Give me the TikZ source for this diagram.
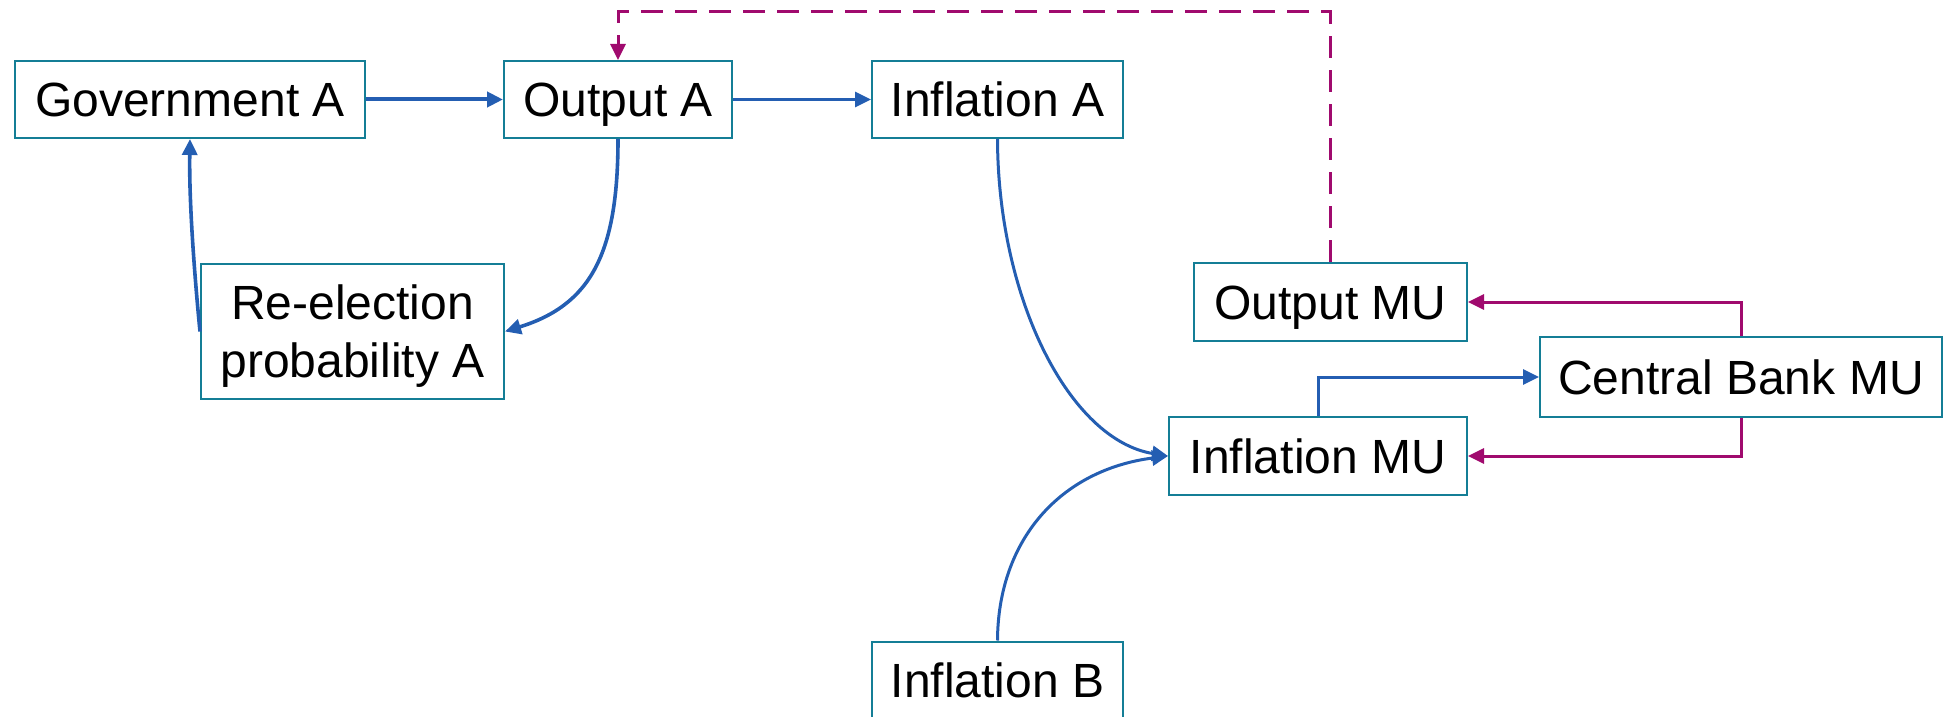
\documentclass[tikz,border=0pt]{standalone}
\usepackage{fontspec}
\setmainfont{Liberation Sans}
\usetikzlibrary{arrows.meta}
\definecolor{boxteal}{RGB}{20,126,150}
\definecolor{arrblue}{RGB}{36,94,178}
\definecolor{arrmag}{RGB}{160,10,110}
\tikzset{
  box/.style={draw=boxteal, line width=1pt, fill=white, inner sep=0pt, align=center,
    text height=17.2pt, text depth=0pt,
    font=\fontsize{24}{29}\selectfont},
  bluearr/.style={draw=arrblue, line width=1.5pt, -{Triangle[length=8pt,width=7.5pt]}},
  magarr/.style={draw=arrmag, line width=1.5pt, -{Triangle[length=8pt,width=7.5pt]}},
  magdash/.style={magarr, dash pattern=on 11pt off 6pt},
}
\begin{document}
\begin{tikzpicture}[x=0.5pt,y=-0.5pt]
\useasboundingbox (0,0) rectangle (1944,717);
\node[box, minimum width=175pt, minimum height=38.5pt] (gov) at (190,99.5) {Government A};
\node[box, minimum width=114pt, minimum height=38.5pt] (oa) at (618,99.5) {Output A};
\node[box, minimum width=125.5pt, minimum height=38.5pt] (ia) at (997.5,99.5) {Inflation A};
\node[box, minimum width=151.5pt, minimum height=67.5pt, text height=46.2pt] (rep) at (352.5,331.5) {Re-election\\probability A};
\node[box, minimum width=136.5pt, minimum height=39pt] (omu) at (1330.5,302) {Output MU};
\node[box, minimum width=201pt, minimum height=40pt] (cb) at (1741,377) {Central Bank MU};
\node[box, minimum width=149pt, minimum height=39pt] (imu) at (1318,456) {Inflation MU};
\node[box, minimum width=125.5pt, minimum height=39pt] (ib) at (997.5,680.5) {Inflation B};
\coordinate (top) at (0,12);

\draw[bluearr, line width=2pt] (gov.east) -- (oa.west);
\draw[bluearr] (oa.east) -- (ia.west);
\draw[bluearr, line width=1.8pt] (oa.south) .. controls (618,255) and (590,305) .. (rep.east);
\draw[bluearr, line width=1.8pt] (rep.west) .. controls (194,270) and (189,200) .. (gov.south);
\draw[bluearr] (ia.south) .. controls (998,300) and (1070,440) .. (imu.west);
\draw[bluearr] (ib.north) .. controls (998,540) and (1060,470) .. (imu.west);
\draw[bluearr] (imu.north) |- (cb.west);
\draw[magarr] (cb.north) |- (omu.east);
\draw[magarr] (cb.south) |- (imu.east);
\draw[magdash] (omu.north) -- (omu.north |- top) -- (oa.north |- top) -- (oa.north);
\end{tikzpicture}
\end{document}
